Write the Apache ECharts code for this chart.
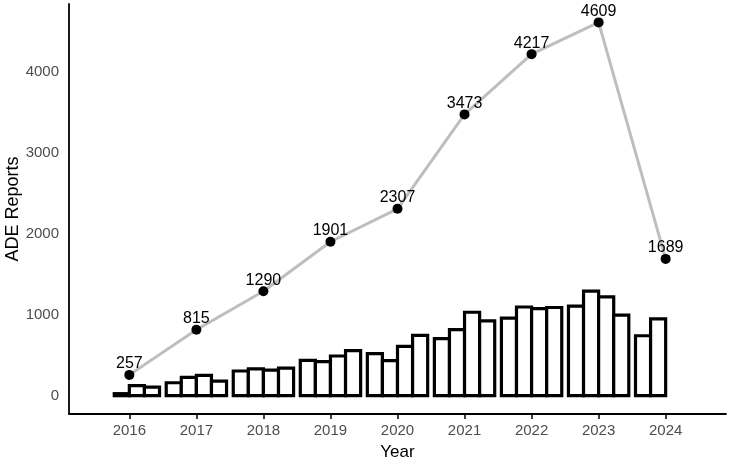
<!DOCTYPE html>
<html>
<head>
<meta charset="utf-8">
<script src="https://cdn.jsdelivr.net/npm/echarts@6/dist/echarts.min.js"></script>
<style>
  html, body { margin: 0; padding: 0; background: #fff; }
  #main { width: 731px; height: 461px; }
</style>
</head>
<body>
<div id="main"></div>
<script>
// yearly totals (line)
var years = [2016, 2017, 2018, 2019, 2020, 2021, 2022, 2023, 2024];
var totals = [257, 815, 1290, 1901, 2307, 3473, 4217, 4609, 1689];

// quarterly counts (bars), null = no data for that quarter
var q1 = [null, 160, 305, 435, 520, 705, 958, 1105, 740];
var q2 = [25, 225, 330, 420, 433, 815, 1095, 1290, 949];
var q3 = [125, 250, 315, 490, 610, 1030, 1075, 1220, null];
var q4 = [107, 180, 340, 556, 744, 923, 1089, 994, null];

var yTicks = [0, 1000, 2000, 3000, 4000];

var myChart = echarts.init(document.getElementById('main'));

var font = 'Liberation Sans, Arial, Helvetica, sans-serif';

// bars: [year, count, quarter slot 0..3]
var barData = [];
[q1, q2, q3, q4].forEach(function (vals, slot) {
    years.forEach(function (y, i) {
        if (vals[i] != null) barData.push([y, vals[i], slot]);
    });
});

var groupWidth = 0.9; // in years, split in 4 slots

function renderBar(params, api) {
    var x = api.value(0);
    var v = api.value(1);
    var slot = api.value(2);
    var base = api.coord([x, 0]);
    var top = api.coord([x, v]);
    var w = api.size([groupWidth / 4, 0])[0];
    var left = base[0] + (slot - 2) * w;
    return {
        type: 'rect',
        shape: { x: left, y: top[1], width: w, height: base[1] - top[1] },
        style: { fill: '#ffffff', stroke: '#000000', lineWidth: 3.2 }
    };
}

var option = {
    animation: false,
    backgroundColor: '#ffffff',
    textStyle: { fontFamily: font },
    grid: {
        left: 69,
        right: 5,
        top: 4,
        bottom: 47,
        outerBoundsMode: 'none',
        containLabel: false
    },
    xAxis: {
        type: 'value',
        min: 2015.1,
        max: 2024.9,
        name: 'Year',
        nameLocation: 'middle',
        nameGap: 30,
        nameMoveOverlap: false,
        nameTextStyle: { color: '#000', fontSize: 17, fontFamily: font },
        splitLine: { show: false },
        axisLine: { show: true, onZero: false, lineStyle: { color: '#000', width: 1.8 } },
        axisTick: {
            show: true,
            length: 5,
            customValues: years,
            lineStyle: { color: '#000', width: 1.5 }
        },
        axisLabel: {
            customValues: years,
            color: '#4d4d4d',
            fontSize: 15,
            margin: 9,
            fontFamily: font,
            formatter: function (v) { return String(v); }
        }
    },
    yAxis: {
        type: 'value',
        min: -226,
        max: 4836,
        name: 'ADE Reports',
        nameLocation: 'middle',
        nameGap: 47,
        nameMoveOverlap: false,
        nameTextStyle: { color: '#000', fontSize: 18, fontFamily: font },
        splitLine: { show: false },
        axisLine: { show: true, onZero: false, lineStyle: { color: '#000', width: 1.8 } },
        axisTick: { show: false },
        axisLabel: {
            customValues: yTicks,
            color: '#4d4d4d',
            fontSize: 15,
            margin: 10,
            fontFamily: font,
            formatter: function (v) { return String(v); }
        }
    },
    series: [
        {
            type: 'custom',
            z: 2,
            renderItem: renderBar,
            encode: { x: 0, y: 1 },
            data: barData
        },
        {
            type: 'line',
            z: 5,
            symbol: 'circle',
            symbolSize: 10,
            lineStyle: { color: '#bebebe', width: 3 },
            itemStyle: { color: '#000' },
            label: {
                show: true,
                position: 'top',
                distance: -2,
                color: '#000',
                fontSize: 16,
                fontFamily: font,
                formatter: function (p) { return p.value[1]; }
            },
            data: years.map(function (y, i) { return [y, totals[i]]; })
        }
    ]
};

myChart.setOption(option);
</script>
</body>
</html>
